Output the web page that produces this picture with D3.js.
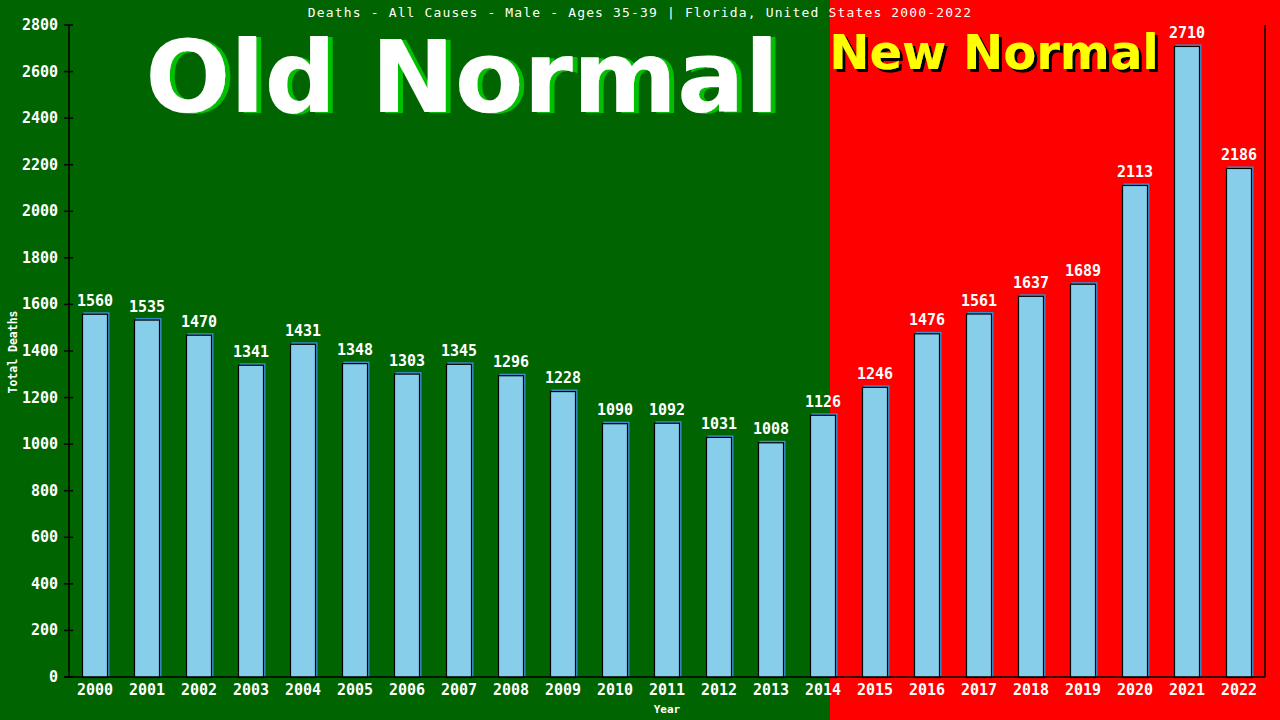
<!DOCTYPE html>
<html><head><meta charset="utf-8">
<script src="https://cdn.jsdelivr.net/npm/d3@7"></script>
<style>html,body{margin:0;padding:0;background:#006400;}svg{display:block;}</style>
</head><body>
<svg id="c" width="1280" height="720"></svg>
<script>
const years = ["2000","2001","2002","2003","2004","2005","2006","2007","2008","2009","2010","2011","2012","2013","2014","2015","2016","2017","2018","2019","2020","2021","2022"];
const deaths = [1560,1535,1470,1341,1431,1348,1303,1345,1296,1228,1090,1092,1031,1008,1126,1246,1476,1561,1637,1689,2113,2710,2186];
const yTicks = [0,200,400,600,800,1000,1200,1400,1600,1800,2000,2200,2400,2600,2800];
const title = "Deaths - All Causes - Male - Ages 35-39 | Florida, United States 2000-2022";

(function(){
const svg = d3.select("#c");
const W = 1280, H = 720;
const pL = 69, pR = 1265, pT = 25, pB = 677;
const x = d3.scaleBand().domain(years).range([pL, pR]).paddingInner(0.5).paddingOuter(0.25);
const y = d3.scaleLinear().domain([0, 2800]).range([pB, pT]);
const mono = "'DejaVu Sans Mono', monospace";
const sans = "'DejaVu Sans', Verdana, sans-serif";

// shadow filters
const defs = svg.append("defs");
function shadow(id, color, dx, dy){
  const f = defs.append("filter").attr("id",id).attr("x","-5%").attr("y","-10%").attr("width","115%").attr("height","130%");
  f.append("feOffset").attr("in","SourceAlpha").attr("dx",dx).attr("dy",dy).attr("result","o");
  f.append("feFlood").attr("flood-color",color).attr("result","c");
  f.append("feComposite").attr("in","c").attr("in2","o").attr("operator","in").attr("result","s");
  const m = f.append("feMerge");
  m.append("feMergeNode").attr("in","s");
  m.append("feMergeNode").attr("in","SourceGraphic");
}
shadow("gs","#00c000",5,1);
shadow("ks","#000000",3,3);

// backgrounds
const split = x("2014") + 20;
svg.append("rect").attr("x",0).attr("y",0).attr("width",split).attr("height",H).attr("fill","#006400");
svg.append("rect").attr("x",split).attr("y",0).attr("width",W-split).attr("height",H).attr("fill","#ff0000");

// big labels
svg.append("text").attr("x",462).attr("y",112).attr("text-anchor","middle").attr("font-family",sans)
  .attr("font-weight","bold").attr("font-size",100).attr("fill","#ffffff").attr("filter","url(#gs)").text("Old Normal");
svg.append("text").attr("x",994).attr("y",69).attr("text-anchor","middle").attr("font-family",sans)
  .attr("font-weight","bold").attr("font-size",48).attr("fill","#ffff00").attr("filter","url(#ks)").text("New Normal");

// title
svg.append("text").attr("x",640).attr("y",16.5).attr("text-anchor","middle").attr("font-family",mono)
  .attr("font-size",13).attr("letter-spacing","1.15px").attr("fill","#fff").text(title);

// bars
const bars = svg.append("g");
bars.selectAll("rect.sh").data(deaths).join("rect").attr("class","sh")
  .attr("x",(d,i)=>x(years[i])+1.5).attr("y",d=>y(d)-1.5)
  .attr("width",x.bandwidth()).attr("height",d=>pB-y(d)+1.5)
  .attr("fill","#3d8fd0");
bars.selectAll("rect.b").data(deaths).join("rect").attr("class","b")
  .attr("x",(d,i)=>x(years[i])+0.5).attr("y",d=>y(d)+0.5)
  .attr("width",x.bandwidth()-1).attr("height",d=>pB-y(d))
  .attr("fill","#87ceeb").attr("stroke","#000").attr("stroke-width",1.2);

// value labels
svg.append("g").selectAll("text").data(deaths).join("text")
  .attr("x",(d,i)=>x(years[i])+x.bandwidth()/2).attr("y",d=>y(d)-8)
  .attr("text-anchor","middle").attr("font-family",mono).attr("font-size",15).attr("font-weight","bold")
  .attr("fill","#fff").text(d=>d);

// axes lines
const ax = svg.append("g").attr("stroke","#000").attr("stroke-width",1.5);
ax.append("line").attr("x1",pL).attr("x2",pL).attr("y1",pT).attr("y2",pB);
ax.append("line").attr("x1",64).attr("x2",pR).attr("y1",pB).attr("y2",pB);
ax.append("line").attr("x1",pR).attr("x2",pR).attr("y1",pT).attr("y2",pB);
ax.selectAll("line.t").data(yTicks).join("line").attr("class","t")
  .attr("x1",64).attr("x2",73).attr("y1",d=>y(d)).attr("y2",d=>y(d));

// y tick labels
svg.append("g").selectAll("text").data(yTicks).join("text")
  .attr("x",58).attr("y",d=>y(d)+5).attr("text-anchor","end")
  .attr("font-family",mono).attr("font-size",15).attr("font-weight","bold").attr("fill","#fff").text(d=>d);

// x labels
svg.append("g").selectAll("text").data(years).join("text")
  .attr("x",d=>x(d)+x.bandwidth()/2).attr("y",695).attr("text-anchor","middle")
  .attr("font-family",mono).attr("font-size",15).attr("font-weight","bold").attr("fill","#fff").text(d=>d);

// axis titles
svg.append("text").attr("x",(pL+pR)/2).attr("y",713).attr("text-anchor","middle")
  .attr("font-family",mono).attr("font-size",11).attr("font-weight","bold").attr("fill","#fff").text("Year");
svg.append("text").attr("transform","translate(17,352) rotate(-90)").attr("text-anchor","middle")
  .attr("font-family",mono).attr("font-size",11.5).attr("font-weight","bold").attr("fill","#fff").text("Total Deaths");
})();
</script>
</body></html>
